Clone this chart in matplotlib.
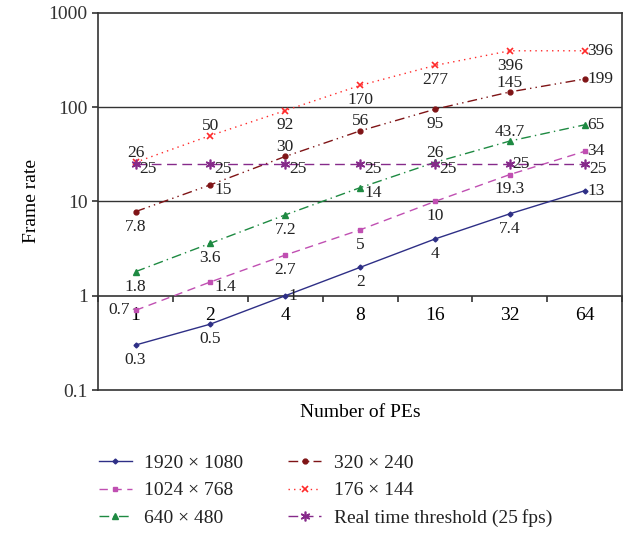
import matplotlib.pyplot as plt
import numpy as np

# Données
pes = ['1', '2', '4', '8', '16', '32', '64']
r1920 = [0.3, 0.5, 1, 2, 4, 7.4, 13]
r1024 = [0.7, 1.4, 2.7, 5, 10, 19.3, 34]
r640 = [1.8, 3.6, 7.2, 14, 26, 43.7, 65]
r320 = [7.8, 15, 30, 56, 95, 145, 199]
r176 = [26, 50, 92, 170, 277, 396, 396]
seuil = [25, 25, 25, 25, 25, 25, 25]

noms = ['1920 \u00d7 1080', '1024 \u00d7 768', '640 \u00d7 480',
        '320 \u00d7 240', '176 \u00d7 144', 'Real time threshold (25\u2009fps)']

plt.rcParams['font.family'] = ['Liberation Serif', 'DejaVu Serif']
plt.rcParams['font.size'] = 14
plt.rcParams['text.color'] = '#222222'

# Placement des étiquettes (b: dessous, a: dessus, r: droite, rb: droite-bas, l: gauche)
pos1920 = ['b', 'b', 'r', 'b', 'b', 'b', 'r']
pos1024 = ['l', 'rb', 'b', 'b', 'b', 'b', 'r']
pos640 = ['b', 'b', 'b', 'rb', 'a', 'a', 'r']
pos320 = ['b', 'rb', 'a', 'a', 'b', 'a', 'r']
pos176 = ['a', 'a', 'b', 'b', 'b', 'b', 'r']
posseuil = ['rb', 'rb', 'rb', 'rb', 'rb', 'r', 'rb']

offsets = {'b': ((0, -5), 'center', 'top'),
           'a': ((0, 1), 'center', 'bottom'),
           'r': ((2, 0), 'left', 'center'),
           'rb': ((3, -4), 'left', 'center'),
           'l': ((-4, 0), 'right', 'center')}

series = [
    (r1920, pos1920, dict(color='#2e2f86', ls='-', marker='D', ms=2.5)),
    (r1024, pos1024, dict(color='#c04fb2', ls=(0, (6, 4)), marker='s', ms=3.5)),
    (r640, pos640, dict(color='#1e8a42', ls=(0, (7, 3, 1, 3)), marker='^', ms=4)),
    (r320, pos320, dict(color='#7f1416', ls=(0, (7, 3, 1, 3, 1, 3)), marker='o', ms=3.5)),
    (r176, pos176, dict(color='#ff2a2a', ls=(0, (1, 3)), marker='x', ms=4, mew=1.2)),
    (seuil, posseuil, dict(color='#862a8a', ls=(0, (7, 4)), marker=(6, 2, 0), ms=7, mew=1.2)),
]

fig = plt.figure(figsize=(6.33, 5.35), dpi=100)
ax = fig.add_axes([0.155, 0.271, 0.828, 0.705])
x = np.arange(len(pes))

lignes = []
for (vals, poss, style), nom in zip(series, noms):
    l, = ax.plot(x, vals, lw=1, label=nom, **style)
    lignes.append(l)
    for xi, v, p in zip(x, vals, poss):
        (dx, dy), ha, va = offsets[p]
        ax.annotate(f'{v:g}', (xi, v), xytext=(dx, dy), textcoords='offset points',
                    ha=ha, va=va, fontsize=12.5)

ax.set_yscale('log')
ax.set_ylim(0.1, 1000)
ax.set_xlim(-0.5, 6.5)
ax.set_yticks([0.1, 1, 10, 100, 1000])
ax.set_yticklabels(['0.1', '1', '10', '100', '1000'])
ax.yaxis.set_minor_locator(plt.NullLocator())
ax.tick_params(axis='y', direction='out', length=4, width=1.2, labelsize=14, colors='#333333')
for y in [10, 100]:
    ax.axhline(y, color='#333333', lw=1, zorder=0)
for s in ax.spines.values():
    s.set_linewidth(1.2)
    s.set_color('#333333')

# Axe des x placé à y = 1
ax.set_xticks([])
sec = ax.secondary_xaxis(0.25)
sec.set_xticks(np.arange(-0.5, 7, 1))
sec.set_xticklabels([''] * 8)
sec.set_xticks(x, minor=True)
sec.set_xticklabels(pes, minor=True)
sec.tick_params(which='major', direction='out', length=4, width=1.2, colors='#333333')
sec.tick_params(which='minor', length=0, pad=8, labelsize=14)
sec.spines['bottom'].set_linewidth(1.2)
sec.spines['bottom'].set_color('#333333')

ax.set_ylabel('Frame rate', fontsize=14, labelpad=6)
ax.set_xlabel('Number of PEs', fontsize=14, labelpad=10)

fig.legend(handles=lignes, loc='lower left', bbox_to_anchor=(0.128, -0.018), ncol=2,
           frameon=False, fontsize=14, columnspacing=2.3, handlelength=1.7,
           handletextpad=0.65, labelspacing=0.5)

plt.savefig('out.png')
